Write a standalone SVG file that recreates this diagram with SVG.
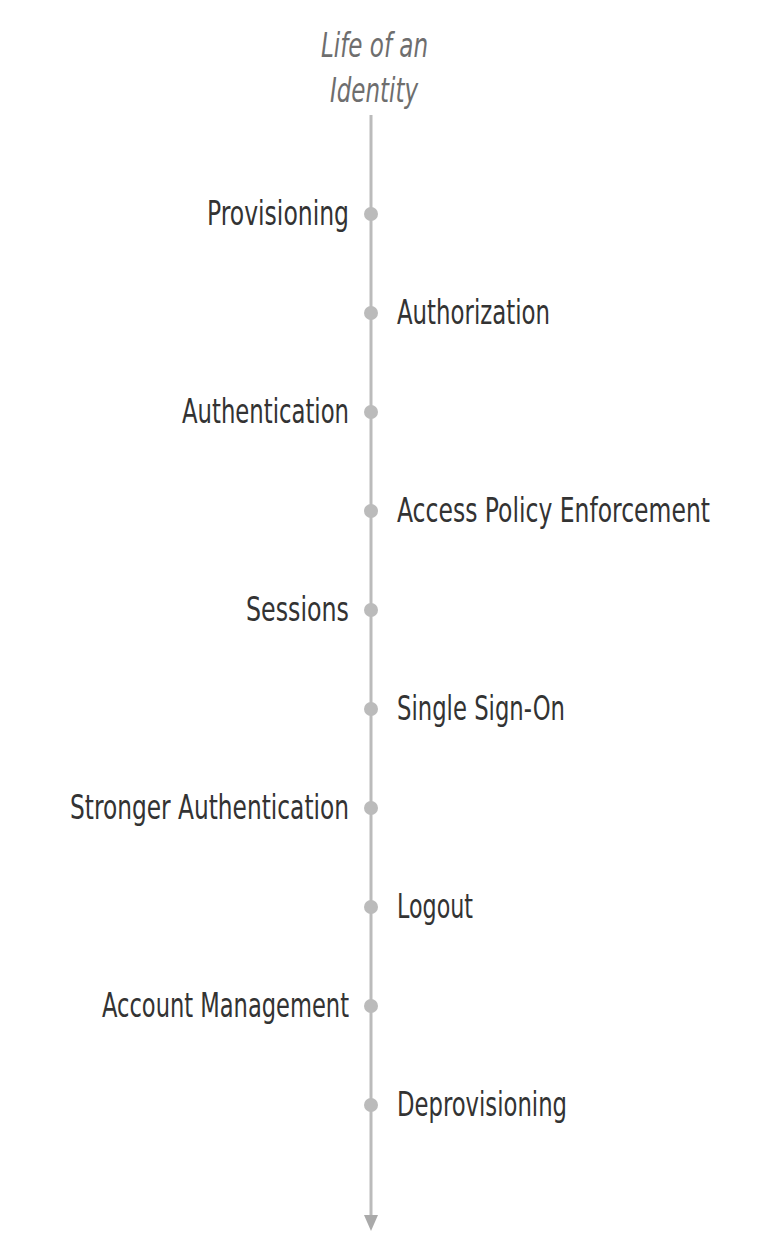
<svg xmlns="http://www.w3.org/2000/svg" width="760" height="1252" viewBox="0 0 760 1252">
<style>
.lbl{font-family:"Liberation Sans Narrow","DejaVu Sans Condensed","Liberation Sans",sans-serif;font-size:33px;fill:#333;}
.title{font-family:"Liberation Sans Narrow","DejaVu Sans Condensed","Liberation Sans",sans-serif;font-size:33px;font-style:italic;fill:#6e6e6e;}
.dot{fill:#bbb;}
</style>
<rect width="760" height="1252" fill="#fff"/>
<g id="title">
<text class="title" x="321" y="57" textLength="107" lengthAdjust="spacingAndGlyphs">Life of an</text>
<text class="title" x="330" y="102" textLength="88" lengthAdjust="spacingAndGlyphs">Identity</text>
</g>
<g id="connectors">
<line x1="371" y1="115" x2="371" y2="1216" stroke="#bbb" stroke-width="3"/>
<path d="M364,1215 L378,1215 L371,1231 Z" fill="#aaa"/>
</g>
<g id="provisioning"><circle class="dot" cx="371" cy="214" r="7"/><text class="lbl" x="207" y="225" textLength="142" lengthAdjust="spacingAndGlyphs">Provisioning</text></g>
<g id="authorization"><circle class="dot" cx="371" cy="313" r="7"/><text class="lbl" x="397" y="324" textLength="153" lengthAdjust="spacingAndGlyphs">Authorization</text></g>
<g id="authentication"><circle class="dot" cx="371" cy="412" r="7"/><text class="lbl" x="182" y="423" textLength="167" lengthAdjust="spacingAndGlyphs">Authentication</text></g>
<g id="access-policy"><circle class="dot" cx="371" cy="511" r="7"/><text class="lbl" x="710" y="522" text-anchor="end" textLength="313" lengthAdjust="spacingAndGlyphs">Access Policy Enforcement</text></g>
<g id="sessions"><circle class="dot" cx="371" cy="610" r="7"/><text class="lbl" x="246" y="621" textLength="103" lengthAdjust="spacingAndGlyphs">Sessions</text></g>
<g id="sso"><circle class="dot" cx="371" cy="709" r="7"/><text class="lbl" x="397" y="720" textLength="168" lengthAdjust="spacingAndGlyphs">Single Sign-On</text></g>
<g id="stronger-auth"><circle class="dot" cx="371" cy="808" r="7"/><text class="lbl" x="70" y="819" textLength="279" lengthAdjust="spacingAndGlyphs">Stronger Authentication</text></g>
<g id="logout"><circle class="dot" cx="371" cy="907" r="7"/><text class="lbl" x="397" y="918" textLength="76" lengthAdjust="spacingAndGlyphs">Logout</text></g>
<g id="account-mgmt"><circle class="dot" cx="371" cy="1006" r="7"/><text class="lbl" x="102" y="1017" textLength="247" lengthAdjust="spacingAndGlyphs">Account Management</text></g>
<g id="deprovisioning"><circle class="dot" cx="371" cy="1105" r="7"/><text class="lbl" x="397" y="1116" textLength="170" lengthAdjust="spacingAndGlyphs">Deprovisioning</text></g>
</svg>
